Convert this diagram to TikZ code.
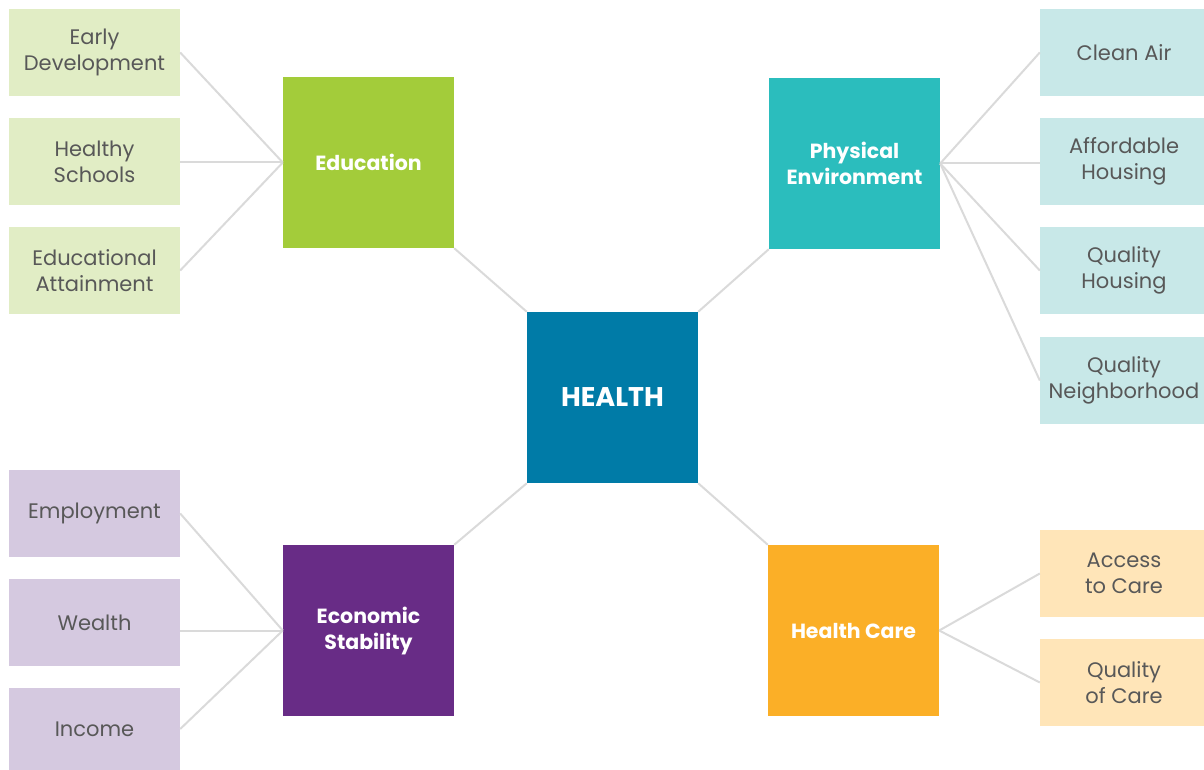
\documentclass[tikz,border=0pt]{standalone}
\usepackage{fontspec}
\setmainfont{Poppins}
\definecolor{edu}{HTML}{A3CC3A}
\definecolor{edul}{HTML}{E1EDC5}
\definecolor{env}{HTML}{2BBDBD}
\definecolor{envl}{HTML}{C8E8E8}
\definecolor{hlth}{HTML}{007BA7}
\definecolor{eco}{HTML}{682C86}
\definecolor{ecol}{HTML}{D5C9E0}
\definecolor{care}{HTML}{FBAF27}
\definecolor{carel}{HTML}{FFE5B8}
\definecolor{txt}{HTML}{585858}
\definecolor{lnk}{HTML}{DADADA}
\begin{document}
\begin{tikzpicture}[x=1pt,y=-1pt,
  leaf/.style={minimum width=171pt,minimum height=87pt,inner sep=0pt,align=center,text=txt,font=\fontsize{21}{26}\selectfont},
  rleaf/.style={leaf,minimum width=168pt},
  big/.style={minimum width=171pt,minimum height=171pt,inner sep=0pt,align=center,text=white,font=\fontsize{20.5}{26}\selectfont\bfseries},
  link/.style={draw=lnk,line width=2pt}]
\useasboundingbox (0,0) rectangle (1204,770);
\begin{scope}
\clip (0,0) rectangle (1204,770);
% leaves left
\node[leaf,fill=edul] (ed1) at (94.5,52.5) {Early\\Development};
\node[leaf,fill=edul] (ed2) at (94.5,161.5) {Healthy\\Schools};
\node[leaf,fill=edul] (ed3) at (94.5,270.5) {Educational\\Attainment};
\node[leaf,fill=ecol] (ec1) at (94.5,513.5) {Employment};
\node[leaf,fill=ecol] (ec2) at (94.5,622.5) {Wealth};
\node[leaf,fill=ecol,minimum height=82pt] (ec3) at (94.5,729) {Income};
% leaves right
\node[rleaf,fill=envl] (en1) at (1124,52.5) {Clean Air};
\node[rleaf,fill=envl] (en2) at (1124,161.5) {Affordable\\Housing};
\node[rleaf,fill=envl] (en3) at (1124,270.5) {Quality\\Housing};
\node[rleaf,fill=envl] (en4) at (1124,380.5) {Quality\\Neighborhood};
\node[rleaf,fill=carel] (ca1) at (1124,573.5) {Access\\to Care};
\node[rleaf,fill=carel] (ca2) at (1124,682.5) {Quality\\of Care};
% big boxes
\node[big,fill=edu] (edu) at (368.5,162.5) {Education};
\node[big,fill=env] (env) at (854.5,163.5) {Physical\\Environment};
\node[big,fill=hlth,font=\fontsize{27}{32}\selectfont\bfseries] (h) at (612.5,397.5) {HEALTH};
\node[big,fill=eco] (eco) at (368.5,630.5) {Economic\\Stability};
\node[big,fill=care] (car) at (853.5,630.5) {Health Care};
% links
\draw[link] (ed1.east) -- (edu.west);
\draw[link] (ed2.east |- edu.west) -- (edu.west);
\draw[link] (ed3.east) -- (edu.west);
\draw[link] (ec1.east) -- (eco.west);
\draw[link] (ec2.east |- eco.west) -- (eco.west);
\draw[link] (ec3.east) -- (eco.west);
\draw[link] (env.east) -- (en1.west);
\draw[link] (env.east) -- (en2.west |- env.east);
\draw[link] (env.east) -- (en3.west);
\draw[link] (env.east) -- (en4.west);
\draw[link] (car.east) -- (ca1.west);
\draw[link] (car.east) -- (ca2.west);
\draw[link] (edu.south east) -- (h.north west);
\draw[link] (env.south west) -- (h.north east);
\draw[link] (eco.north east) -- (h.south west);
\draw[link] (car.north west) -- (h.south east);
\end{scope}
\end{tikzpicture}
\end{document}
